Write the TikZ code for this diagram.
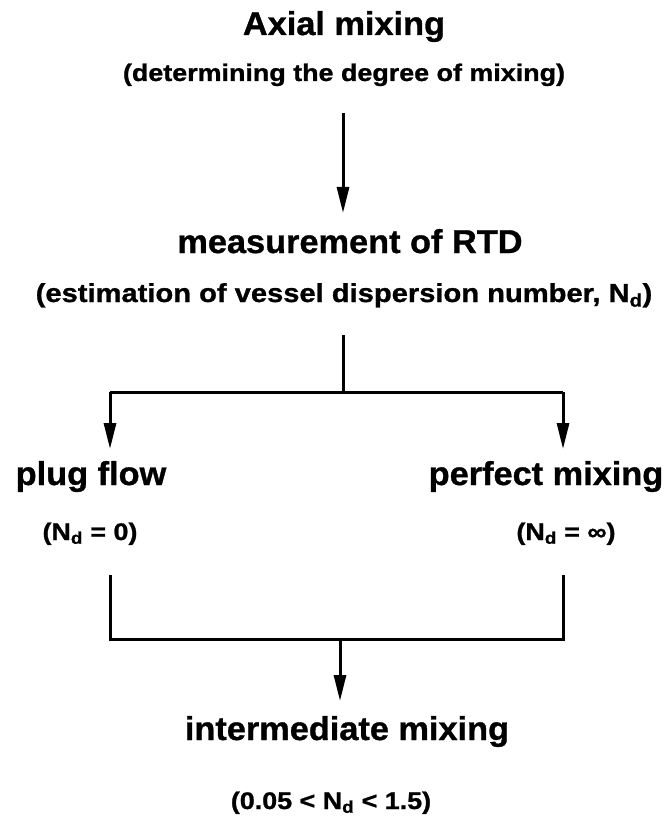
\documentclass[tikz,border=0pt]{standalone}
\usepackage{fontspec}
\setmainfont{Liberation Sans}
\newfontfamily\bigf{Liberation Sans}[FakeStretch=1.04,FakeBold=1]
\newfontfamily\smf{Liberation Sans}[FakeStretch=1.12,FakeBold=1]
\usetikzlibrary{arrows.meta}
\begin{document}
\begin{tikzpicture}[x=1pt,y=-1pt,
  big/.style={inner sep=0pt,anchor=base,font=\bigf\bfseries\fontsize{33}{33}\selectfont},
  small/.style={inner sep=0pt,anchor=base,font=\smf\bfseries\fontsize{24}{24}\selectfont},
  conn/.style={line width=3pt},
  arr/.style={conn,-{Triangle[length=26pt,width=12pt]}}]
\useasboundingbox (0,0) rectangle (669,818);
\node[big] (title) at (344,35) {Axial mixing};
\node[small] (sub1) at (344,81) {(determining the degree of mixing)};
\node[big] (rtd) at (350,253) {measurement of RTD};
\node[small,font=\smf\bfseries\fontsize{26}{26}\selectfont] (sub2) at (344,302) {(estimation of vessel dispersion number, N\textsubscript{d})};
\node[big] (plug) at (91,485) {plug flow};
\node[big] (perfect) at (546,485) {perfect mixing};
\node[small] (nd0) at (90,540) {(N\textsubscript{d} = 0)};
\node[small] (ndinf) at (566,540) {(N\textsubscript{d} = \char"221E)};
\node[big] (inter) at (347,740) {intermediate mixing};
\node[small] (sub3) at (331,809) {(0.05 < N\textsubscript{d} < 1.5)};
% connector geometry
\coordinate (a1s) at (343,113);
\coordinate (a1e) at (343,213);
\coordinate (s0) at (343,335);
\coordinate (j1) at (343,392);
\coordinate (jl) at (110,392);
\coordinate (jr) at (563,392);
\coordinate (pl) at (110,449);
\coordinate (pr) at (563,449);
\coordinate (ul) at (110,575);
\coordinate (ur) at (563,575);
\coordinate (bl) at (110,639);
\coordinate (br) at (563,639);
\coordinate (bm) at (340,639);
\coordinate (be) at (340,701);
\draw[arr] (a1s) -- (a1e);
\draw[conn] (s0) -- (j1);
\draw[conn] (jl) -- (jr);
\draw[arr] (jl) -- (pl);
\draw[arr] (jr) -- (pr);
\draw[conn] (ul) -- (bl) -- (br) -- (ur);
\draw[arr] (bm) -- (be);
\end{tikzpicture}
\end{document}
